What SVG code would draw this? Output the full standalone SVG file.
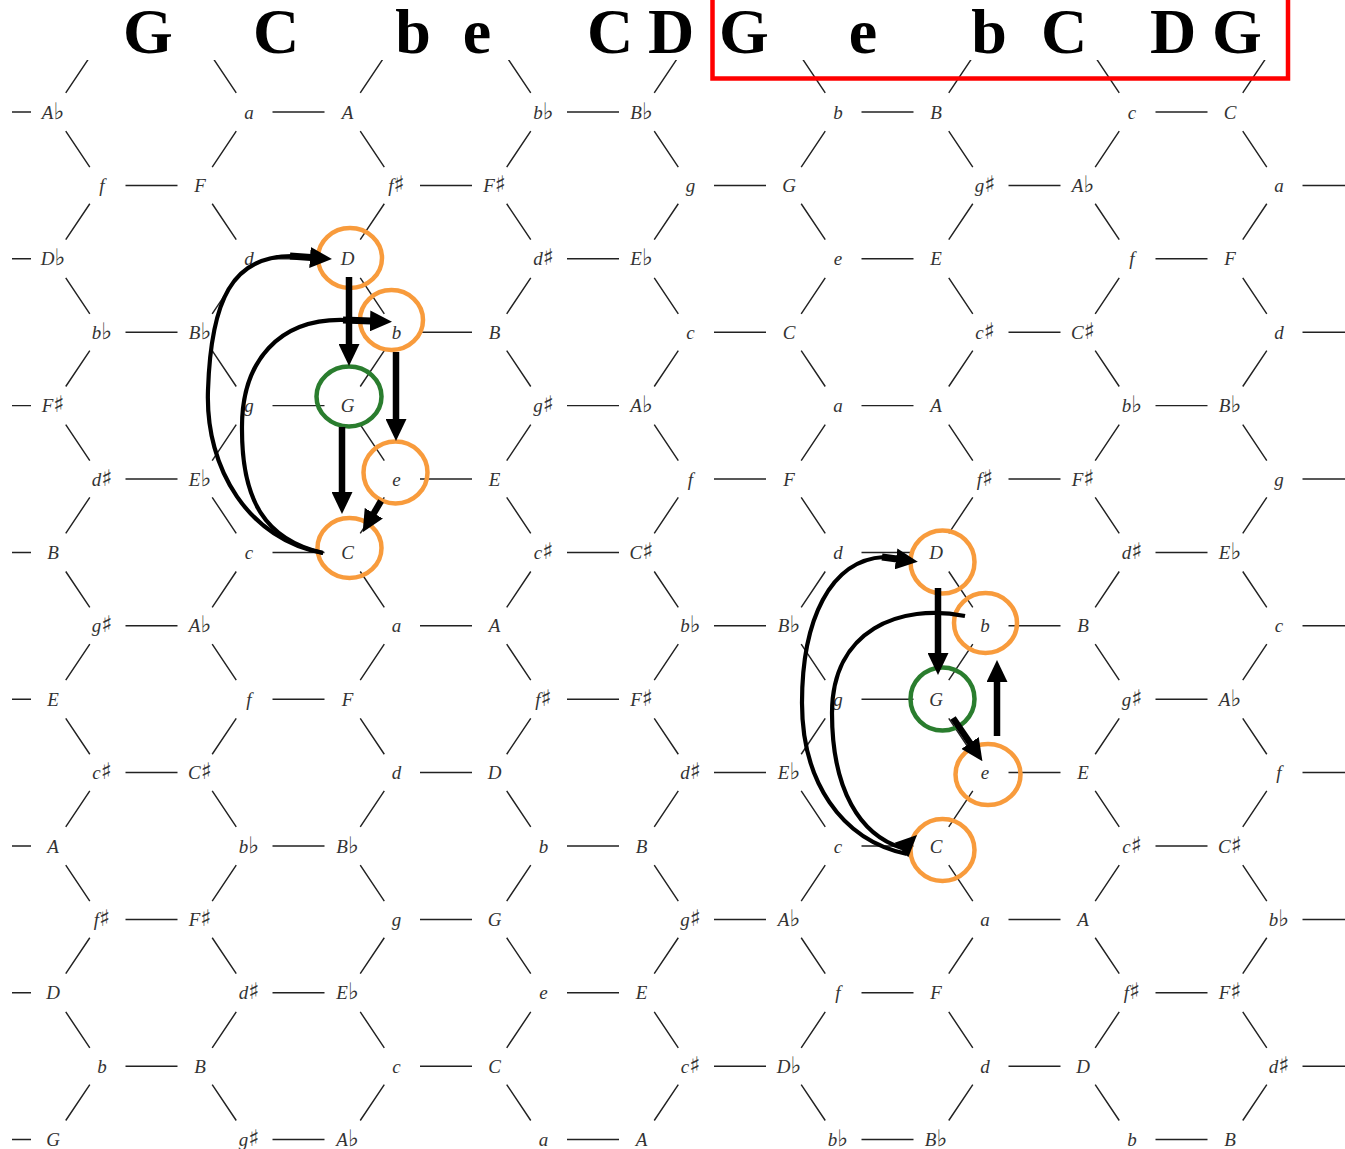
<svg xmlns="http://www.w3.org/2000/svg" xmlns:xlink="http://www.w3.org/1999/xlink" width="1345" height="1149" viewBox="0 0 1345 1149">
<style>
.e{fill:none;stroke:#222;stroke-width:1.45}
.lbl text{font-family:"Liberation Serif","DejaVu Serif",serif;font-style:italic;font-size:19px;fill:#333;text-anchor:middle}
.a{font-family:"DejaVu Sans",sans-serif;font-style:normal;font-size:23px}
.big{font-family:"Liberation Serif","Times New Roman",serif;font-weight:bold;font-size:64px;fill:#000;text-anchor:middle}
.oc{fill:none;stroke:#f89b3c;stroke-width:4.5}
.gc{fill:none;stroke:#2a7d2e;stroke-width:4.5}
.sh{fill:none;stroke:#000;stroke-width:6.5;stroke-linecap:butt}
.cv{fill:none;stroke:#000;stroke-width:4.2;stroke-linecap:butt}
.tk{fill:none;stroke:#000;stroke-width:7;stroke-linecap:butt}
</style>
<defs>
<marker id="ah" markerUnits="userSpaceOnUse" markerWidth="22" markerHeight="21" viewBox="0 0 22 21" refX="1" refY="10.5" orient="auto"><path d="M0,0L22,10.5L0,21z" fill="#000"/></marker>
<path id="hE" class="e" d="M12 0H31M272.5 0H324.5M567 0H619M861.5 0H913.5M1155.5 0H1207.5"/>
<path id="hO" class="e" d="M125.5 0H177.5M420 0H472M714 0H766M1008.5 0H1060.5M1302.5 0H1345"/>
<path id="dEO" class="e" d="M65.75 19.1L89.8 55.05M236.25 19.1L212.2 55.05M360.25 19.1L384.3 55.05M530.75 19.1L506.7 55.05M654.25 19.1L678.3 55.05M825.25 19.1L801.2 55.05M948.75 19.1L972.8 55.05M1119.25 19.1L1095.2 55.05M1242.75 19.1L1266.8 55.05"/>
<clipPath id="topc"><rect x="0" y="60" width="1345" height="60"/></clipPath>
</defs>
<rect width="1345" height="1149" fill="#fff"/>
<g id="lattice-edges">
<g clip-path="url(#topc)"><use href="#dEO" transform="translate(0,112) scale(1,-1)"/></g>
<use href="#dEO" transform="translate(0,112)"/>
<use href="#dEO" transform="translate(0,258.8) scale(1,-1)"/>
<use href="#dEO" transform="translate(0,258.8)"/>
<use href="#dEO" transform="translate(0,405.6) scale(1,-1)"/>
<use href="#dEO" transform="translate(0,405.6)"/>
<use href="#dEO" transform="translate(0,552.4) scale(1,-1)"/>
<use href="#dEO" transform="translate(0,552.4)"/>
<use href="#dEO" transform="translate(0,699.2) scale(1,-1)"/>
<use href="#dEO" transform="translate(0,699.2)"/>
<use href="#dEO" transform="translate(0,846) scale(1,-1)"/>
<use href="#dEO" transform="translate(0,846)"/>
<use href="#dEO" transform="translate(0,992.8) scale(1,-1)"/>
<use href="#dEO" transform="translate(0,992.8)"/>
<use href="#dEO" transform="translate(0,1139.6) scale(1,-1)"/>
<use href="#hE" transform="translate(0,112)"/>
<use href="#hO" transform="translate(0,185.4)"/>
<use href="#hE" transform="translate(0,258.8)"/>
<use href="#hO" transform="translate(0,332.2)"/>
<use href="#hE" transform="translate(0,405.6)"/>
<use href="#hO" transform="translate(0,479)"/>
<use href="#hE" transform="translate(0,552.4)"/>
<use href="#hO" transform="translate(0,625.8)"/>
<use href="#hE" transform="translate(0,699.2)"/>
<use href="#hO" transform="translate(0,772.6)"/>
<use href="#hE" transform="translate(0,846)"/>
<use href="#hO" transform="translate(0,919.4)"/>
<use href="#hE" transform="translate(0,992.8)"/>
<use href="#hO" transform="translate(0,1066.2)"/>
<use href="#hE" transform="translate(0,1139.6)"/>
</g>
<g id="labels" class="lbl">
<g transform="translate(0,118.5)">
<g id="n0-0"><text x="53">A<tspan class="a">♭</tspan></text></g>
<g id="n0-1"><text x="249">a</text></g>
<g id="n0-2"><text x="347.5">A</text></g>
<g id="n0-3"><text x="543.5">b<tspan class="a">♭</tspan></text></g>
<g id="n0-4"><text x="641.5">B<tspan class="a">♭</tspan></text></g>
<g id="n0-5"><text x="838">b</text></g>
<g id="n0-6"><text x="936">B</text></g>
<g id="n0-7"><text x="1132">c</text></g>
<g id="n0-8"><text x="1230">C</text></g>
</g>
<g transform="translate(0,191.9)">
<g id="n1-0"><text x="102">f</text></g>
<g id="n1-1"><text x="200">F</text></g>
<g id="n1-2"><text x="396.5">f<tspan class="a">♯</tspan></text></g>
<g id="n1-3"><text x="494.5">F<tspan class="a">♯</tspan></text></g>
<g id="n1-4"><text x="690.5">g</text></g>
<g id="n1-5"><text x="789">G</text></g>
<g id="n1-6"><text x="985">g<tspan class="a">♯</tspan></text></g>
<g id="n1-7"><text x="1083">A<tspan class="a">♭</tspan></text></g>
<g id="n1-8"><text x="1279">a</text></g>
</g>
<g transform="translate(0,265.3)">
<g id="n2-0"><text x="53">D<tspan class="a">♭</tspan></text></g>
<g id="n2-1"><text x="249">d</text></g>
<g id="n2-2"><text x="347.5">D</text></g>
<g id="n2-3"><text x="543.5">d<tspan class="a">♯</tspan></text></g>
<g id="n2-4"><text x="641.5">E<tspan class="a">♭</tspan></text></g>
<g id="n2-5"><text x="838">e</text></g>
<g id="n2-6"><text x="936">E</text></g>
<g id="n2-7"><text x="1132">f</text></g>
<g id="n2-8"><text x="1230">F</text></g>
</g>
<g transform="translate(0,338.7)">
<g id="n3-0"><text x="102">b<tspan class="a">♭</tspan></text></g>
<g id="n3-1"><text x="200">B<tspan class="a">♭</tspan></text></g>
<g id="n3-2"><text x="396.5">b</text></g>
<g id="n3-3"><text x="494.5">B</text></g>
<g id="n3-4"><text x="690.5">c</text></g>
<g id="n3-5"><text x="789">C</text></g>
<g id="n3-6"><text x="985">c<tspan class="a">♯</tspan></text></g>
<g id="n3-7"><text x="1083">C<tspan class="a">♯</tspan></text></g>
<g id="n3-8"><text x="1279">d</text></g>
</g>
<g transform="translate(0,412.1)">
<g id="n4-0"><text x="53">F<tspan class="a">♯</tspan></text></g>
<g id="n4-1"><text x="249">g</text></g>
<g id="n4-2"><text x="347.5">G</text></g>
<g id="n4-3"><text x="543.5">g<tspan class="a">♯</tspan></text></g>
<g id="n4-4"><text x="641.5">A<tspan class="a">♭</tspan></text></g>
<g id="n4-5"><text x="838">a</text></g>
<g id="n4-6"><text x="936">A</text></g>
<g id="n4-7"><text x="1132">b<tspan class="a">♭</tspan></text></g>
<g id="n4-8"><text x="1230">B<tspan class="a">♭</tspan></text></g>
</g>
<g transform="translate(0,485.5)">
<g id="n5-0"><text x="102">d<tspan class="a">♯</tspan></text></g>
<g id="n5-1"><text x="200">E<tspan class="a">♭</tspan></text></g>
<g id="n5-2"><text x="396.5">e</text></g>
<g id="n5-3"><text x="494.5">E</text></g>
<g id="n5-4"><text x="690.5">f</text></g>
<g id="n5-5"><text x="789">F</text></g>
<g id="n5-6"><text x="985">f<tspan class="a">♯</tspan></text></g>
<g id="n5-7"><text x="1083">F<tspan class="a">♯</tspan></text></g>
<g id="n5-8"><text x="1279">g</text></g>
</g>
<g transform="translate(0,558.9)">
<g id="n6-0"><text x="53">B</text></g>
<g id="n6-1"><text x="249">c</text></g>
<g id="n6-2"><text x="347.5">C</text></g>
<g id="n6-3"><text x="543.5">c<tspan class="a">♯</tspan></text></g>
<g id="n6-4"><text x="641.5">C<tspan class="a">♯</tspan></text></g>
<g id="n6-5"><text x="838">d</text></g>
<g id="n6-6"><text x="936">D</text></g>
<g id="n6-7"><text x="1132">d<tspan class="a">♯</tspan></text></g>
<g id="n6-8"><text x="1230">E<tspan class="a">♭</tspan></text></g>
</g>
<g transform="translate(0,632.3)">
<g id="n7-0"><text x="102">g<tspan class="a">♯</tspan></text></g>
<g id="n7-1"><text x="200">A<tspan class="a">♭</tspan></text></g>
<g id="n7-2"><text x="396.5">a</text></g>
<g id="n7-3"><text x="494.5">A</text></g>
<g id="n7-4"><text x="690.5">b<tspan class="a">♭</tspan></text></g>
<g id="n7-5"><text x="789">B<tspan class="a">♭</tspan></text></g>
<g id="n7-6"><text x="985">b</text></g>
<g id="n7-7"><text x="1083">B</text></g>
<g id="n7-8"><text x="1279">c</text></g>
</g>
<g transform="translate(0,705.7)">
<g id="n8-0"><text x="53">E</text></g>
<g id="n8-1"><text x="249">f</text></g>
<g id="n8-2"><text x="347.5">F</text></g>
<g id="n8-3"><text x="543.5">f<tspan class="a">♯</tspan></text></g>
<g id="n8-4"><text x="641.5">F<tspan class="a">♯</tspan></text></g>
<g id="n8-5"><text x="838">g</text></g>
<g id="n8-6"><text x="936">G</text></g>
<g id="n8-7"><text x="1132">g<tspan class="a">♯</tspan></text></g>
<g id="n8-8"><text x="1230">A<tspan class="a">♭</tspan></text></g>
</g>
<g transform="translate(0,779.1)">
<g id="n9-0"><text x="102">c<tspan class="a">♯</tspan></text></g>
<g id="n9-1"><text x="200">C<tspan class="a">♯</tspan></text></g>
<g id="n9-2"><text x="396.5">d</text></g>
<g id="n9-3"><text x="494.5">D</text></g>
<g id="n9-4"><text x="690.5">d<tspan class="a">♯</tspan></text></g>
<g id="n9-5"><text x="789">E<tspan class="a">♭</tspan></text></g>
<g id="n9-6"><text x="985">e</text></g>
<g id="n9-7"><text x="1083">E</text></g>
<g id="n9-8"><text x="1279">f</text></g>
</g>
<g transform="translate(0,852.5)">
<g id="n10-0"><text x="53">A</text></g>
<g id="n10-1"><text x="249">b<tspan class="a">♭</tspan></text></g>
<g id="n10-2"><text x="347.5">B<tspan class="a">♭</tspan></text></g>
<g id="n10-3"><text x="543.5">b</text></g>
<g id="n10-4"><text x="641.5">B</text></g>
<g id="n10-5"><text x="838">c</text></g>
<g id="n10-6"><text x="936">C</text></g>
<g id="n10-7"><text x="1132">c<tspan class="a">♯</tspan></text></g>
<g id="n10-8"><text x="1230">C<tspan class="a">♯</tspan></text></g>
</g>
<g transform="translate(0,925.9)">
<g id="n11-0"><text x="102">f<tspan class="a">♯</tspan></text></g>
<g id="n11-1"><text x="200">F<tspan class="a">♯</tspan></text></g>
<g id="n11-2"><text x="396.5">g</text></g>
<g id="n11-3"><text x="494.5">G</text></g>
<g id="n11-4"><text x="690.5">g<tspan class="a">♯</tspan></text></g>
<g id="n11-5"><text x="789">A<tspan class="a">♭</tspan></text></g>
<g id="n11-6"><text x="985">a</text></g>
<g id="n11-7"><text x="1083">A</text></g>
<g id="n11-8"><text x="1279">b<tspan class="a">♭</tspan></text></g>
</g>
<g transform="translate(0,999.3)">
<g id="n12-0"><text x="53">D</text></g>
<g id="n12-1"><text x="249">d<tspan class="a">♯</tspan></text></g>
<g id="n12-2"><text x="347.5">E<tspan class="a">♭</tspan></text></g>
<g id="n12-3"><text x="543.5">e</text></g>
<g id="n12-4"><text x="641.5">E</text></g>
<g id="n12-5"><text x="838">f</text></g>
<g id="n12-6"><text x="936">F</text></g>
<g id="n12-7"><text x="1132">f<tspan class="a">♯</tspan></text></g>
<g id="n12-8"><text x="1230">F<tspan class="a">♯</tspan></text></g>
</g>
<g transform="translate(0,1072.7)">
<g id="n13-0"><text x="102">b</text></g>
<g id="n13-1"><text x="200">B</text></g>
<g id="n13-2"><text x="396.5">c</text></g>
<g id="n13-3"><text x="494.5">C</text></g>
<g id="n13-4"><text x="690.5">c<tspan class="a">♯</tspan></text></g>
<g id="n13-5"><text x="789">D<tspan class="a">♭</tspan></text></g>
<g id="n13-6"><text x="985">d</text></g>
<g id="n13-7"><text x="1083">D</text></g>
<g id="n13-8"><text x="1279">d<tspan class="a">♯</tspan></text></g>
</g>
<g transform="translate(0,1146)">
<g id="n14-0"><text x="53">G</text></g>
<g id="n14-1"><text x="249">g<tspan class="a">♯</tspan></text></g>
<g id="n14-2"><text x="347.5">A<tspan class="a">♭</tspan></text></g>
<g id="n14-3"><text x="543.5">a</text></g>
<g id="n14-4"><text x="641.5">A</text></g>
<g id="n14-5"><text x="838">b<tspan class="a">♭</tspan></text></g>
<g id="n14-6"><text x="936">B<tspan class="a">♭</tspan></text></g>
<g id="n14-7"><text x="1132">b</text></g>
<g id="n14-8"><text x="1230">B</text></g>
</g>
</g>
<g id="chord-letters" class="big">
<text x="148" y="53">G</text>
<text x="276" y="53">C</text>
<text x="413" y="53">b</text>
<text x="477" y="53">e</text>
<text x="610" y="53">C</text>
<text x="671" y="53">D</text>
<text x="744" y="53">G</text>
<text x="863" y="53">e</text>
<text x="989" y="53">b</text>
<text x="1064" y="53">C</text>
<text x="1173" y="53">D</text>
<text x="1237" y="53">G</text>
</g>
<g id="highlight-box"><rect x="712.5" y="-10" width="575.5" height="88.5" fill="none" stroke="#ff0000" stroke-width="4.5"/></g>
<g id="hl-left-D"><ellipse class="oc" cx="350" cy="258" rx="32" ry="30"/></g>
<g id="hl-left-b"><ellipse class="oc" cx="391.5" cy="320" rx="31.5" ry="30"/></g>
<g id="hl-left-G"><ellipse class="gc" cx="349" cy="396.5" rx="32.5" ry="30"/></g>
<g id="hl-left-e"><ellipse class="oc" cx="395.5" cy="472.5" rx="32" ry="31"/></g>
<g id="hl-left-C"><ellipse class="oc" cx="349.5" cy="548" rx="32" ry="30"/></g>
<g id="hl-right-D"><ellipse class="oc" cx="942.5" cy="562" rx="32" ry="31.5"/></g>
<g id="hl-right-b"><ellipse class="oc" cx="985.5" cy="623" rx="31.5" ry="30"/></g>
<g id="hl-right-G"><ellipse class="gc" cx="942.5" cy="699" rx="32" ry="31.5"/></g>
<g id="hl-right-e"><ellipse class="oc" cx="988" cy="774.5" rx="32.5" ry="30.5"/></g>
<g id="hl-right-C"><ellipse class="oc" cx="942.5" cy="850" rx="32" ry="31"/></g>
<g id="connectors">
<path class="sh" d="M349 277V345" marker-end="url(#ah)"/>
<path class="sh" d="M396 352V420" marker-end="url(#ah)"/>
<path class="sh" d="M342 427V493" marker-end="url(#ah)"/>
<path class="sh" d="M381 501L373.3 514.1" marker-end="url(#ah)"/>
<path class="cv" d="M323 553C250 540 205 470 208 390C211 300 232 256 292 256"/>
<path class="tk" d="M290 256L311 257.5" marker-end="url(#ah)"/>
<path class="cv" d="M323 553C265 540 242 500 242 430C241 360 280 318 345 320"/>
<path class="tk" d="M343 320L371 321" marker-end="url(#ah)"/>
<path class="sh" d="M938 588V654" marker-end="url(#ah)"/>
<path class="sh" d="M953 718L970.6 743.8" marker-end="url(#ah)"/>
<path class="sh" d="M997 736V681" marker-end="url(#ah)"/>
<path class="cv" d="M907 854C840 840 802 780 802 703C802 620 830 560 884 557"/>
<path class="tk" d="M882 557L897 559" marker-end="url(#ah)"/>
<path class="cv" d="M965 616C900 603 832 630 832 713C832 790 860 835 902 848"/>
<polygon points="917,835 908.4,857.2 894.6,842.8" fill="#000"/>
</g>
</svg>
